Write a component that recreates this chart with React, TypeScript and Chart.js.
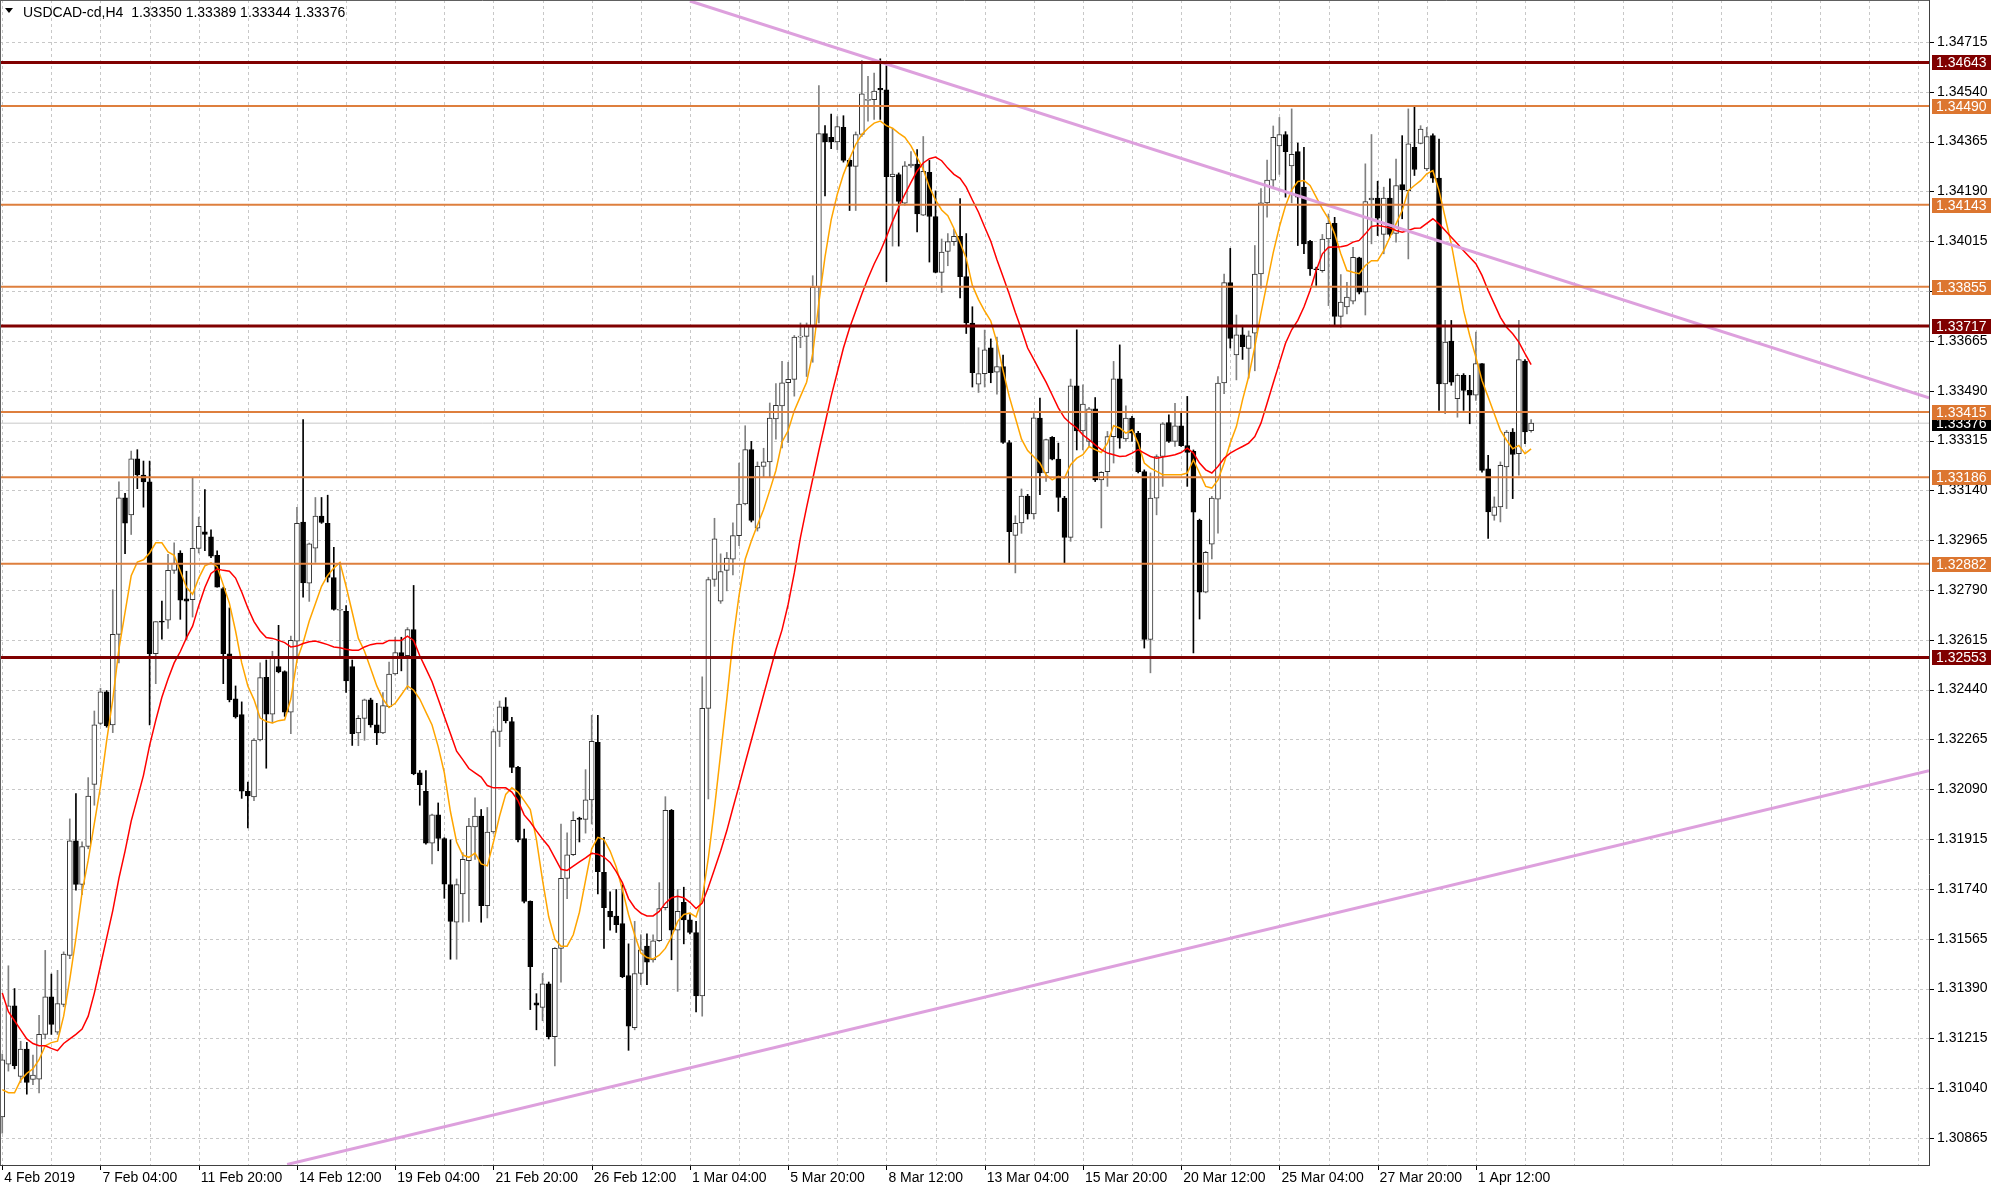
import React, { useEffect, useRef } from "react";
import { Chart, registerables } from "chart.js";

Chart.register(...registerables);

// ---------------- DATA ----------------
const symbolTitle = "USDCAD-cd,H4";

const opens = [
1.30939,1.31124,1.31329,1.31081,1.31177,1.31071,1.31072,1.31229,1.31361,1.31237,
1.31334,1.31506,1.31909,1.31756,1.31889,1.32107,1.32321,1.32432,1.32316,1.32634,
1.33114,1.33054,1.33251,1.33194,1.33170,1.32566,1.32679,1.32684,1.32859,1.32920,
1.32759,1.32756,1.32936,1.32994,1.32977,1.32912,1.32795,1.32566,1.32408,1.32352,
1.32083,1.32063,1.32263,1.32483,1.32354,1.32521,1.32503,1.32361,1.32610,1.33029,
1.32814,1.32937,1.33050,1.33024,1.32834,1.32719,1.32715,1.32521,1.32288,1.32339,
1.32404,1.32316,1.32288,1.32380,1.32495,1.32570,1.32559,1.32651,1.32148,1.32083,
1.31901,1.32000,1.31917,1.31755,1.31623,1.31722,1.31839,1.31958,1.31996,1.31681,
1.31940,1.32293,1.32380,1.32328,1.32167,1.31917,1.31696,1.31340,1.31324,1.31407,
1.31221,1.31531,1.31777,1.31860,1.31989,1.31984,1.32053,1.32255,1.31798,1.31661,
1.31645,1.31618,1.31436,1.31253,1.31443,1.31539,1.31491,1.31558,1.31674,1.32016,
1.31595,1.31693,1.31631,1.31587,1.31364,1.32374,1.32827,1.32751,1.32859,1.32898,
1.32981,1.33092,1.33283,1.33007,1.33224,1.33240,1.33391,1.33437,1.33518,1.33530,
1.33678,1.33681,1.33716,1.33854,1.34393,1.34380,1.34364,1.34415,1.34299,1.34278,
1.34390,1.34510,1.34512,1.34552,1.34547,1.34242,1.34249,1.34149,1.34280,1.34286,
1.34107,1.34257,1.34102,1.33906,1.33979,1.34014,1.34032,1.33891,1.33728,1.33513,
1.33550,1.33641,1.33555,1.33575,1.33308,1.32982,1.33026,1.33120,1.33057,1.33394,
1.33201,1.33326,1.33250,1.33113,1.32975,1.33507,1.33349,1.33312,1.33426,1.33177,
1.33206,1.33329,1.33532,1.33321,1.33394,1.33341,1.33206,1.32616,1.33113,1.33259,
1.33378,1.33312,1.33367,1.33297,1.33277,1.33035,1.32782,1.32951,1.33109,1.33517,
1.33870,1.33616,1.33686,1.33639,1.33692,1.33900,1.34150,1.34230,1.34350,1.34390,
1.34280,1.34330,1.34205,1.34015,1.33918,1.33912,1.34023,1.34078,1.33751,1.33784,
1.33805,1.33957,1.33836,1.34160,1.34167,1.34039,1.34167,1.34043,1.34214,1.34193,
1.34345,1.34359,1.34269,1.34386,1.34237,1.33514,1.33664,1.33462,1.33544,1.33491,
1.33474,1.33585,1.33216,1.33052,1.33082,1.33222,1.33345,1.33269,1.33594,1.33350
];

const highs = [
1.31160,1.31470,1.31390,1.31205,1.31201,1.31156,1.31296,1.31524,1.31441,1.31454,
1.31519,1.31986,1.32075,1.31905,1.32131,1.32365,1.32445,1.32437,1.32791,1.33170,
1.33130,1.33278,1.33283,1.33243,1.33243,1.32679,1.32751,1.32915,1.32956,1.32928,
1.32856,1.33186,1.33046,1.33143,1.33001,1.32928,1.32800,1.32727,1.32453,1.32397,
1.32115,1.32268,1.32534,1.32544,1.32575,1.32666,1.32506,1.32628,1.33080,1.33389,
1.32955,1.33115,1.33115,1.33123,1.32940,1.32887,1.32735,1.32544,1.32349,1.32407,
1.32410,1.32392,1.32430,1.32537,1.32624,1.32624,1.32658,1.32806,1.32156,1.32156,
1.32003,1.32042,1.31920,1.31912,1.31775,1.31867,1.31988,1.32060,1.32019,1.32026,
1.32301,1.32400,1.32412,1.32343,1.32171,1.31950,1.31698,1.31372,1.31443,1.31413,
1.31534,1.31968,1.31937,1.32011,1.31992,1.32159,1.32350,1.32350,1.31921,1.31730,
1.31738,1.31754,1.31547,1.31626,1.31579,1.31582,1.31579,1.31762,1.32064,1.32019,
1.31738,1.31746,1.31650,1.31626,1.32485,1.32835,1.33042,1.32917,1.32922,1.33026,
1.33236,1.33367,1.33312,1.33240,1.33288,1.33447,1.33515,1.33593,1.33590,1.33684,
1.33728,1.33728,1.33894,1.34562,1.34421,1.34462,1.34453,1.34456,1.34305,1.34399,
1.34650,1.34594,1.34606,1.34656,1.34631,1.34412,1.34255,1.34295,1.34330,1.34337,
1.34383,1.34299,1.34192,1.34023,1.34042,1.34057,1.34165,1.34042,1.33785,1.33641,
1.33703,1.33672,1.33678,1.33615,1.33315,1.33051,1.33145,1.33126,1.33411,1.33464,
1.33320,1.33329,1.33306,1.33119,1.33531,1.33704,1.33511,1.33432,1.33466,1.33206,
1.33347,1.33593,1.33651,1.33437,1.33400,1.33347,1.33212,1.33201,1.33265,1.33378,
1.33405,1.33446,1.33417,1.33470,1.33282,1.33039,1.32926,1.33119,1.33540,1.33900,
1.33990,1.33756,1.33720,1.33700,1.34000,1.34200,1.34300,1.34420,1.34450,1.34400,
1.34480,1.34360,1.34345,1.34018,1.33924,1.34039,1.34111,1.34099,1.33898,1.33871,
1.33994,1.33959,1.34287,1.34390,1.34226,1.34205,1.34234,1.34304,1.34386,1.34480,
1.34486,1.34421,1.34415,1.34392,1.34374,1.33737,1.33737,1.33550,1.33550,1.33544,
1.33696,1.33585,1.33263,1.33117,1.33240,1.33351,1.33357,1.33737,1.33599,1.33389
];

const lows = [
1.30882,1.31100,1.31108,1.31060,1.31019,1.31052,1.31023,1.31213,1.31229,1.31229,
1.31326,1.31495,1.31736,1.31720,1.31881,1.32034,1.32316,1.32308,1.32289,1.32534,
1.32918,1.32985,1.33146,1.33081,1.32316,1.32461,1.32617,1.32655,1.32848,1.32687,
1.32617,1.32695,1.32920,1.32928,1.32904,1.32800,1.32461,1.32397,1.32340,1.32058,
1.31954,1.32050,1.32260,1.32164,1.32323,1.32499,1.32346,1.32285,1.32559,1.32765,
1.32750,1.32887,1.33024,1.32818,1.32719,1.32559,1.32430,1.32244,1.32243,1.32262,
1.32308,1.32247,1.32285,1.32377,1.32491,1.32506,1.32441,1.32141,1.32034,1.31897,
1.31828,1.31874,1.31707,1.31493,1.31493,1.31623,1.31626,1.31844,1.31623,1.31638,
1.31935,1.32240,1.32323,1.32148,1.31905,1.31691,1.31316,1.31245,1.31277,1.31213,
1.31118,1.31412,1.31706,1.31857,1.31905,1.31936,1.31968,1.31722,1.31531,1.31595,
1.31587,1.31428,1.31173,1.31245,1.31404,1.31404,1.31483,1.31555,1.31666,1.31491,
1.31380,1.31547,1.31582,1.31308,1.31293,1.32056,1.32803,1.32743,1.32787,1.32843,
1.32946,1.33089,1.33029,1.32997,1.33185,1.33188,1.33320,1.33289,1.33308,1.33471,
1.33641,1.33540,1.33590,1.33728,1.34174,1.34340,1.34337,1.34293,1.34123,1.34123,
1.34383,1.34437,1.34443,1.34443,1.33873,1.33998,1.33998,1.34142,1.34274,1.34048,
1.34105,1.33942,1.33904,1.33835,1.33929,1.34000,1.33816,1.33691,1.33503,1.33484,
1.33503,1.33518,1.33478,1.33305,1.32882,1.32850,1.32989,1.33039,1.33039,1.33125,
1.33171,1.33247,1.33066,1.32885,1.32961,1.33282,1.33282,1.33294,1.33171,1.33008,
1.33154,1.33236,1.33288,1.33312,1.33312,1.33201,1.32586,1.32499,1.33054,1.33154,
1.33308,1.33294,1.33294,1.33154,1.32569,1.32688,1.32780,1.32899,1.32990,1.33480,
1.33640,1.33528,1.33600,1.33534,1.33560,1.33850,1.34100,1.34200,1.34250,1.34170,
1.34150,1.34000,1.33971,1.33895,1.33860,1.33906,1.33789,1.33719,1.33713,1.33760,
1.33795,1.33830,1.33756,1.34006,1.34035,1.33971,1.34029,1.34012,1.34094,1.33953,
1.34246,1.34357,1.34263,1.34222,1.33421,1.33409,1.33509,1.33397,1.33421,1.33374,
1.33456,1.33204,1.32971,1.33035,1.33029,1.33076,1.33111,1.33193,1.33304,1.33344
];

const closes = [
1.31140,1.31329,1.31119,1.31177,1.31060,1.31086,1.31229,1.31361,1.31264,1.31337,
1.31511,1.31909,1.31756,1.31889,1.32066,1.32316,1.32432,1.32313,1.32634,1.33114,
1.33025,1.33251,1.33194,1.33170,1.32566,1.32679,1.32677,1.32859,1.32885,1.32754,
1.32751,1.32936,1.33014,1.32985,1.32909,1.32800,1.32566,1.32405,1.32344,1.32083,
1.32067,1.32263,1.32482,1.32354,1.32552,1.32502,1.32361,1.32613,1.33024,1.32815,
1.32952,1.33050,1.33027,1.32834,1.32722,1.32722,1.32471,1.32285,1.32339,1.32404,
1.32316,1.32288,1.32384,1.32495,1.32570,1.32559,1.32651,1.32145,1.32106,1.31901,
1.32000,1.31917,1.31757,1.31626,1.31755,1.31844,1.31961,1.31996,1.31681,1.31940,
1.32293,1.32380,1.32331,1.32167,1.31912,1.31696,1.31467,1.31332,1.31407,1.31221,
1.31531,1.31777,1.31860,1.31981,1.31984,1.32053,1.32258,1.31801,1.31674,1.31642,
1.31614,1.31432,1.31258,1.31443,1.31526,1.31483,1.31558,1.31671,1.32016,1.31595,
1.31661,1.31631,1.31587,1.31364,1.32374,1.32827,1.32970,1.32855,1.32902,1.32981,
1.33092,1.33283,1.33034,1.33224,1.33240,1.33394,1.33439,1.33518,1.33530,1.33678,
1.33681,1.33716,1.33854,1.34393,1.34364,1.34364,1.34418,1.34299,1.34278,1.34390,
1.34533,1.34512,1.34543,1.34547,1.34242,1.34251,1.34155,1.34280,1.34286,1.34111,
1.34261,1.34102,1.33906,1.33977,1.34014,1.34032,1.33891,1.33728,1.33553,1.33550,
1.33634,1.33553,1.33575,1.33308,1.32995,1.33024,1.33120,1.33057,1.33395,1.33201,
1.33318,1.33250,1.33115,1.32975,1.33507,1.33349,1.33443,1.33426,1.33177,1.33203,
1.33329,1.33532,1.33323,1.33394,1.33341,1.33206,1.32616,1.33113,1.33259,1.33374,
1.33312,1.33367,1.33297,1.33273,1.33063,1.32782,1.32922,1.33113,1.33517,1.33870,
1.33674,1.33686,1.33645,1.33683,1.33900,1.34150,1.34230,1.34380,1.34390,1.34330,
1.34320,1.34170,1.34006,1.33918,1.33915,1.34023,1.34078,1.33751,1.33801,1.33819,
1.33959,1.33836,1.34154,1.34167,1.34096,1.34167,1.34039,1.34211,1.34195,1.34357,
1.34267,1.34409,1.34383,1.34237,1.33514,1.33661,1.33520,1.33544,1.33491,1.33474,
1.33585,1.33210,1.33064,1.33082,1.33228,1.33345,1.33266,1.33599,1.33345,1.33376
];

// fast moving average (orange)
const maFast = [
1.31035,1.31024,1.31024,1.31068,1.31092,1.31108,1.31140,1.31189,1.31200,1.31205,
1.31293,1.31422,1.31567,1.31728,1.31841,1.31970,1.32099,1.32260,1.32405,1.32582,
1.32711,1.32840,1.32888,1.32896,1.32920,1.32956,1.32956,1.32924,1.32912,1.32856,
1.32800,1.32775,1.32832,1.32875,1.32885,1.32872,1.32808,1.32743,1.32646,1.32534,
1.32453,1.32405,1.32340,1.32328,1.32323,1.32331,1.32334,1.32407,1.32544,1.32605,
1.32681,1.32742,1.32803,1.32841,1.32867,1.32887,1.32803,1.32712,1.32620,1.32575,
1.32514,1.32453,1.32407,1.32377,1.32392,1.32422,1.32453,1.32438,1.32407,1.32361,
1.32316,1.32240,1.32148,1.32011,1.31905,1.31859,1.31851,1.31866,1.31828,1.31821,
1.31905,1.31996,1.32072,1.32095,1.32080,1.32050,1.32019,1.31913,1.31770,1.31642,
1.31563,1.31539,1.31539,1.31579,1.31658,1.31770,1.31881,1.31921,1.31913,1.31873,
1.31817,1.31738,1.31650,1.31579,1.31515,1.31499,1.31494,1.31507,1.31531,1.31571,
1.31626,1.31650,1.31655,1.31642,1.31706,1.31849,1.32024,1.32215,1.32406,1.32612,
1.32771,1.32898,1.32962,1.33018,1.33073,1.33140,1.33210,1.33310,1.33350,1.33420,
1.33470,1.33520,1.33620,1.33800,1.33960,1.34090,1.34180,1.34250,1.34305,1.34355,
1.34390,1.34412,1.34430,1.34437,1.34421,1.34412,1.34395,1.34380,1.34350,1.34310,
1.34268,1.34205,1.34160,1.34125,1.34105,1.34060,1.34010,1.33955,1.33860,1.33810,
1.33770,1.33735,1.33660,1.33560,1.33470,1.33395,1.33320,1.33280,1.33258,1.33236,
1.33195,1.33177,1.33189,1.33183,1.33230,1.33253,1.33265,1.33294,1.33283,1.33273,
1.33306,1.33367,1.33359,1.33341,1.33353,1.33306,1.33236,1.33218,1.33207,1.33195,
1.33195,1.33195,1.33195,1.33201,1.33247,1.33201,1.33154,1.33148,1.33177,1.33236,
1.33306,1.33364,1.33458,1.33540,1.33645,1.33762,1.33870,1.33975,1.34065,1.34140,
1.34195,1.34225,1.34228,1.34211,1.34170,1.34129,1.34094,1.34041,1.33971,1.33912,
1.33906,1.33901,1.33930,1.33947,1.33947,1.33982,1.34029,1.34076,1.34123,1.34193,
1.34211,1.34228,1.34252,1.34263,1.34193,1.34099,1.34006,1.33889,1.33772,1.33684,
1.33608,1.33526,1.33468,1.33409,1.33351,1.33316,1.33286,1.33298,1.33269,1.33286
];

// slow moving average (red)
const maSlow = [
1.31374,1.31309,1.31277,1.31245,1.31213,1.31197,1.31189,1.31189,1.31180,1.31172,
1.31197,1.31213,1.31229,1.31248,1.31293,1.31374,1.31470,1.31567,1.31664,1.31777,
1.31873,1.31978,1.32058,1.32139,1.32244,1.32332,1.32413,1.32477,1.32534,1.32574,
1.32622,1.32663,1.32735,1.32799,1.32848,1.32864,1.32859,1.32856,1.32832,1.32783,
1.32727,1.32679,1.32646,1.32623,1.32620,1.32613,1.32605,1.32590,1.32593,1.32602,
1.32608,1.32611,1.32605,1.32598,1.32590,1.32587,1.32582,1.32578,1.32578,1.32590,
1.32598,1.32602,1.32602,1.32613,1.32613,1.32613,1.32628,1.32613,1.32559,1.32514,
1.32468,1.32407,1.32346,1.32285,1.32224,1.32194,1.32163,1.32148,1.32133,1.32103,
1.32095,1.32095,1.32095,1.32080,1.32050,1.32000,1.31975,1.31944,1.31915,1.31889,
1.31849,1.31809,1.31805,1.31820,1.31835,1.31849,1.31865,1.31862,1.31852,1.31833,
1.31801,1.31762,1.31706,1.31674,1.31655,1.31645,1.31645,1.31661,1.31690,1.31709,
1.31714,1.31709,1.31693,1.31671,1.31690,1.31746,1.31809,1.31873,1.31944,1.32024,
1.32103,1.32183,1.32262,1.32342,1.32422,1.32501,1.32580,1.32650,1.32740,1.32850,
1.32975,1.33080,1.33180,1.33280,1.33375,1.33470,1.33555,1.33640,1.33710,1.33770,
1.33830,1.33885,1.33935,1.33979,1.34030,1.34085,1.34135,1.34180,1.34222,1.34262,
1.34290,1.34305,1.34311,1.34298,1.34272,1.34250,1.34236,1.34205,1.34160,1.34117,
1.34065,1.34015,1.33950,1.33890,1.33830,1.33765,1.33705,1.33640,1.33600,1.33560,
1.33520,1.33475,1.33430,1.33395,1.33375,1.33359,1.33335,1.33318,1.33300,1.33283,
1.33271,1.33265,1.33259,1.33261,1.33271,1.33283,1.33271,1.33259,1.33253,1.33257,
1.33261,1.33265,1.33273,1.33288,1.33271,1.33236,1.33212,1.33201,1.33224,1.33253,
1.33271,1.33283,1.33294,1.33306,1.33329,1.33376,1.33446,1.33517,1.33587,1.33657,
1.33704,1.33737,1.33784,1.33842,1.33912,1.33971,1.33994,1.33995,1.33996,1.34000,
1.34012,1.34018,1.34041,1.34067,1.34070,1.34067,1.34062,1.34053,1.34047,1.34053,
1.34061,1.34062,1.34078,1.34094,1.34076,1.34053,1.34029,1.34006,1.33982,1.33959,
1.33936,1.33895,1.33842,1.33795,1.33748,1.33713,1.33690,1.33661,1.33620,1.33582
];

const timeLabels = [
  "4 Feb 2019", "7 Feb 04:00", "11 Feb 20:00", "14 Feb 12:00", "19 Feb 04:00",
  "21 Feb 20:00", "26 Feb 12:00", "1 Mar 04:00", "5 Mar 20:00", "8 Mar 12:00",
  "13 Mar 04:00", "15 Mar 20:00", "20 Mar 12:00", "25 Mar 04:00", "27 Mar 20:00",
  "1 Apr 12:00"
];
const timeLabelBars = [0, 16, 32, 48, 64, 80, 96, 112, 128, 144, 160, 176, 192, 208, 224, 240];
const gridBars = [0,8,16,24,32,40,48,56,64,72,80,88,96,104,112,120,128,136,144,152,160,168,176,184,
  192,200,208,216,224,232,240,248,256,264,272,280,288,296,304,312];
const priceTicks = [
  1.30865, 1.31040, 1.31215, 1.31390, 1.31565, 1.31740, 1.31915, 1.32090, 1.32265, 1.32440,
  1.32615, 1.32790, 1.32965, 1.33140, 1.33315, 1.33490, 1.33665, 1.33840, 1.34015, 1.34190,
  1.34365, 1.34540, 1.34715
];
const strongLevels = [1.34643, 1.33717, 1.32553];
const weakLevels = [1.34490, 1.34143, 1.33855, 1.33415, 1.33186, 1.32882];
const bidPrice = 1.33376;
const trendLineA = [{ bar: 112.0, price: 1.34859 }, { bar: 313.8, price: 1.33465 }];
const trendLineB = [{ bar: 46.4, price: 1.30772 }, { bar: 313.8, price: 1.32155 }];

// ---------------- VIEW ----------------
const X_MIN = -0.366;
const X_MAX = 313.8;
const Y_MIN = 1.307702;
const Y_MAX = 1.348625;
const FONT = '"Liberation Sans", Arial, sans-serif';
const STRONG = "#800000";
const WEAK = "#DE7F3E";
const WEAK_BOX = "#DC7630";
const PLUM = "#DDA0DD";

const barIndex = opens.map((_, i) => i);

const zeroPad = (scale: any) => {
  scale.paddingTop = 0;
  scale.paddingBottom = 0;
  scale.paddingLeft = 0;
  scale.paddingRight = 0;
};

const overlayPlugin = {
  id: "mt4overlay",
  beforeDraw(chart: any) {
    const { ctx, width, height } = chart;
    ctx.save();
    ctx.fillStyle = "#ffffff";
    ctx.fillRect(0, 0, width, height);
    ctx.restore();
  },
  beforeDatasetsDraw(chart: any) {
    const { ctx, chartArea: a, scales } = chart;
    const x = scales.x, y = scales.y;
    ctx.save();
    ctx.strokeStyle = "#C8C8C8";
    ctx.lineWidth = 1;
    ctx.setLineDash([3, 3]);
    for (const b of gridBars) {
      const px = Math.round(x.getPixelForValue(b)) + 0.5;
      if (px < a.left || px > a.right) continue;
      ctx.beginPath();
      ctx.moveTo(px, a.top);
      ctx.lineTo(px, a.bottom);
      ctx.stroke();
    }
    for (const p of priceTicks) {
      const py = Math.round(y.getPixelForValue(p)) + 0.5;
      ctx.beginPath();
      ctx.moveTo(a.left, py);
      ctx.lineTo(a.right, py);
      ctx.stroke();
    }
    ctx.restore();
  },
  afterDraw(chart: any) {
    const { ctx, chartArea: a, scales } = chart;
    const x = scales.x, y = scales.y;
    ctx.save();
    // frame
    ctx.strokeStyle = "#606060";
    ctx.lineWidth = 1;
    ctx.beginPath();
    ctx.moveTo(a.left + 0.5, a.top);
    ctx.lineTo(a.left + 0.5, a.bottom);
    ctx.moveTo(a.left, a.top + 0.5);
    ctx.lineTo(a.right, a.top + 0.5);
    ctx.stroke();
    ctx.strokeStyle = "#404040";
    ctx.beginPath();
    ctx.moveTo(a.right + 0.5, 0);
    ctx.lineTo(a.right + 0.5, a.bottom + 1);
    ctx.moveTo(0, a.bottom + 0.5);
    ctx.lineTo(a.right + 1, a.bottom + 0.5);
    ctx.stroke();
    // tick marks
    ctx.strokeStyle = "#000";
    ctx.beginPath();
    for (const p of priceTicks) {
      const py = Math.round(y.getPixelForValue(p)) + 0.5;
      ctx.moveTo(a.right + 1, py);
      ctx.lineTo(a.right + 5, py);
    }
    for (const b of timeLabelBars) {
      const px = Math.round(x.getPixelForValue(b)) + 0.5;
      ctx.moveTo(px, a.bottom + 1);
      ctx.lineTo(px, a.bottom + 5);
    }
    ctx.stroke();

    // price labels on the axis
    const box = (price: number, bg: string) => {
      const py = y.getPixelForValue(price);
      ctx.fillStyle = bg;
      ctx.fillRect(a.right + 3, Math.round(py) - 7, 59, 15);
      ctx.fillStyle = "#ffffff";
      ctx.font = `14px ${FONT}`;
      ctx.textAlign = "left";
      ctx.textBaseline = "middle";
      ctx.fillText(price.toFixed(5), a.right + 7, Math.round(py) + 1);
    };
    box(bidPrice, "#000000");
    for (const p of weakLevels) box(p, WEAK_BOX);
    for (const p of strongLevels) box(p, STRONG);

    // header
    const last = opens.length - 1;
    ctx.fillStyle = "#000";
    ctx.beginPath();
    ctx.moveTo(5, 8);
    ctx.lineTo(13, 8);
    ctx.lineTo(9, 13);
    ctx.closePath();
    ctx.fill();
    ctx.font = `14px ${FONT}`;
    ctx.textAlign = "left";
    ctx.textBaseline = "middle";
    const header = `${symbolTitle}  ${opens[last].toFixed(5)} ${highs[last].toFixed(5)} ${lows[last].toFixed(5)} ${closes[last].toFixed(5)}`;
    ctx.fillText(header, 23, 13);
    ctx.restore();
  },
};

export default function App() {
  const ref = useRef<HTMLCanvasElement>(null);

  useEffect(() => {
    document.body.style.margin = "0";
    const canvas = ref.current;
    if (!canvas) return;

    const bull = barIndex.filter((i) => closes[i] >= opens[i]);
    const bear = barIndex.filter((i) => closes[i] < opens[i]);
    const wick = (ids: number[]) => ids.map((i) => ({ x: i, y: [lows[i], highs[i]] }));
    const body = (ids: number[]) => ids.map((i) => ({ x: i, y: [opens[i], closes[i]] }));
    const hLine = (p: number) => [{ x: X_MIN, y: p }, { x: X_MAX, y: p }];
    const lineBase = { type: "line", pointRadius: 0, tension: 0, fill: false };
    const barBase = { type: "bar", grouped: false, borderSkipped: false, minBarLength: 1 };

    const datasets: any[] = [
      ...strongLevels.map((p) => ({ ...lineBase, data: hLine(p), borderColor: STRONG, borderWidth: 3, order: 0 })),
      ...weakLevels.map((p) => ({ ...lineBase, data: hLine(p), borderColor: WEAK, borderWidth: 2, order: 0 })),
      { ...lineBase, data: trendLineA.map((d) => ({ x: d.bar, y: d.price })), borderColor: PLUM, borderWidth: 3, order: 0 },
      { ...lineBase, data: trendLineB.map((d) => ({ x: d.bar, y: d.price })), borderColor: PLUM, borderWidth: 3, order: 0 },
      { ...lineBase, data: barIndex.map((i) => ({ x: i, y: maSlow[i] })), borderColor: "#FF0000", borderWidth: 1.5, order: 1 },
      { ...lineBase, data: barIndex.map((i) => ({ x: i, y: maFast[i] })), borderColor: "#FFA500", borderWidth: 1.5, order: 1 },
      { ...barBase, data: body(bull), backgroundColor: "#ffffff", borderColor: "#303030", borderWidth: 1, barThickness: 5, order: 2 },
      { ...barBase, data: body(bear), backgroundColor: "#000000", borderColor: "#000000", borderWidth: 1, barThickness: 5, order: 2 },
      { ...barBase, data: wick(bull), backgroundColor: "#808080", borderWidth: 0, barThickness: 1, order: 3 },
      { ...barBase, data: wick(bear), backgroundColor: "#000000", borderWidth: 0, barThickness: 1, order: 3 },
      { ...lineBase, data: hLine(bidPrice), borderColor: "#C8C8C8", borderWidth: 1, order: 4 },
    ];

    const chart = new Chart(canvas, {
      type: "bar",
      data: { datasets },
      options: {
        animation: false,
        responsive: false,
        devicePixelRatio: 1,
        events: [],
        layout: { padding: 0 },
        plugins: { legend: { display: false }, tooltip: { enabled: false } },
        scales: {
          x: {
            type: "linear",
            position: "bottom",
            min: X_MIN,
            max: X_MAX,
            offset: false,
            grid: { display: false, drawTicks: false },
            border: { display: false },
            afterBuildTicks: (scale: any) => {
              scale.ticks = gridBars.map((v) => ({ value: v }));
            },
            afterFit: (scale: any) => {
              scale.height = 26;
              zeroPad(scale);
            },
            ticks: {
              autoSkip: false,
              maxRotation: 0,
              minRotation: 0,
              align: "start",
              labelOffset: 2,
              padding: 5,
              color: "#000",
              font: { family: FONT, size: 14 },
              callback: (value: any) => {
                const idx = timeLabelBars.indexOf(Number(value));
                return idx >= 0 ? timeLabels[idx] : "";
              },
            },
          },
          y: {
            type: "linear",
            position: "right",
            min: Y_MIN,
            max: Y_MAX,
            grid: { display: false, drawTicks: false },
            border: { display: false },
            afterBuildTicks: (scale: any) => {
              scale.ticks = priceTicks.map((v) => ({ value: v }));
            },
            afterFit: (scale: any) => {
              scale.width = 71;
              zeroPad(scale);
            },
            ticks: {
              autoSkip: false,
              padding: 8,
              color: "#000",
              font: { family: FONT, size: 14 },
              callback: (value: any) => Number(value).toFixed(5),
            },
          },
        },
      } as any,
      plugins: [overlayPlugin],
    } as any);

    return () => chart.destroy();
  }, []);

  return (
    <div style={{ position: "absolute", left: 0, top: 0, width: 2000, height: 1191, background: "#fff" }}>
      <canvas ref={ref} width={2000} height={1191} style={{ display: "block", width: 2000, height: 1191 }} />
    </div>
  );
}
